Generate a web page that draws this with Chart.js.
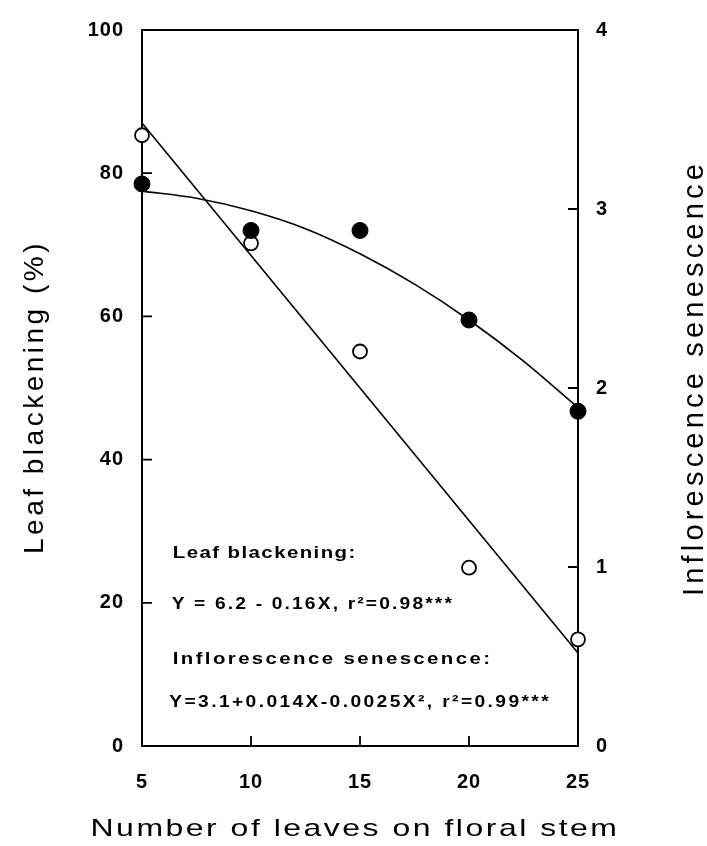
<!DOCTYPE html>
<html>
<head>
<meta charset="utf-8">
<script src="https://cdn.jsdelivr.net/npm/chart.js"></script>
<style>
  html, body { margin: 0; padding: 0; background: #fff; }
  #wrap { width: 707px; height: 846px; }
</style>
</head>
<body>
<div id="wrap"><canvas id="chart" width="707" height="846"></canvas></div>
<script>
// --- data ---
const leaves = [5, 10, 15, 20, 25];
const blackening = [85.3, 70.2, 55.1, 24.9, 14.9];      // open circles, left axis (%)
const senescence = [3.14, 2.88, 2.88, 2.38, 1.87];      // filled circles, right axis
const blackeningFitX = [5, 25];
const blackeningFitY = [87.0, 13.0];
const senescenceFitX = [5, 7.5, 10, 12.5, 15, 17.5, 20, 22.5, 25];
const senescenceFitY = [3.10, 3.06, 2.99, 2.89, 2.75, 2.58, 2.38, 2.15, 1.89];
const xTicks = [5, 10, 15, 20, 25];
const leftTicks = [0, 20, 40, 60, 80, 100];
const rightTicks = [0, 1, 2, 3, 4];

const FONT = '"Liberation Sans", Arial, Helvetica, sans-serif';

const pts = (xs, ys) => xs.map((x, i) => ({ x: x, y: ys[i] }));

function drawLabel(ctx, text, x, y, o) {
  ctx.save();
  ctx.translate(x, y);
  if (o.rotate) ctx.rotate(o.rotate);
  ctx.scale(o.stretch || 1, o.stretchY || 1);
  ctx.font = o.font;
  ctx.letterSpacing = (o.spacing || 0) + 'px';
  ctx.fillStyle = '#000';
  ctx.textBaseline = 'alphabetic';
  ctx.textAlign = o.align || 'left';
  ctx.fillText(text, 0, 0);
  ctx.restore();
}

// frame, inward tick marks, titles and equations
const figurePlugin = {
  id: 'figure',
  beforeDraw(chart) {
    chart.ctx.letterSpacing = '1px';
  },
  beforeDatasetsDraw(chart) {
    const { ctx, chartArea: a, scales } = chart;
    ctx.save();
    ctx.letterSpacing = '0px';
    ctx.strokeStyle = '#000';
    ctx.lineWidth = 2;
    ctx.strokeRect(a.left, a.top, a.right - a.left, a.bottom - a.top);
    ctx.lineWidth = 1.8;
    ctx.beginPath();
    xTicks.forEach(v => {
      const px = scales.x.getPixelForValue(v);
      ctx.moveTo(px, a.bottom); ctx.lineTo(px, a.bottom - 10);
    });
    leftTicks.forEach(v => {
      const py = scales.y.getPixelForValue(v);
      ctx.moveTo(a.left, py); ctx.lineTo(a.left + 10, py);
    });
    rightTicks.forEach(v => {
      const py = scales.y2.getPixelForValue(v);
      ctx.moveTo(a.right, py); ctx.lineTo(a.right - 10, py);
    });
    ctx.stroke();
    ctx.restore();
  },
  afterDatasetsDraw(chart) {
    const { ctx, scales } = chart;
    const X = v => scales.x.getPixelForValue(v);
    const Y = v => scales.y.getPixelForValue(v);
    drawLabel(ctx, 'Leaf blackening:', X(6.41), Y(26.3), { font: 'bold 17px ' + FONT, spacing: 1.2, stretch: 1.2 });
    drawLabel(ctx, 'Y = 6.2 - 0.16X, r\u00B2=0.98***', X(6.36), Y(19.1), { font: 'bold 16px ' + FONT, spacing: 1.8, stretch: 1.2 });
    drawLabel(ctx, 'Inflorescence senescence:', X(6.41), Y(11.4), { font: 'bold 17px ' + FONT, spacing: 2.0, stretch: 1.2 });
    drawLabel(ctx, 'Y=3.1+0.014X-0.0025X\u00B2, r\u00B2=0.99***', X(6.25), Y(5.4), { font: 'bold 16px ' + FONT, spacing: 2.0, stretch: 1.2 });

    const a = chart.chartArea;
    drawLabel(ctx, 'Number of leaves on floral stem', (a.left + a.right) / 2 - 5, 836,
      { font: '24px ' + FONT, spacing: 1.9, stretch: 1.33, align: 'center' });
    drawLabel(ctx, 'Leaf blackening (%)', 43, 397,
      { font: '28px ' + FONT, spacing: 3.5, rotate: -Math.PI / 2, align: 'center' });
    drawLabel(ctx, 'Inflorescence senescence', 703, 378,
      { font: '29px ' + FONT, spacing: 4.2, rotate: -Math.PI / 2, align: 'center' });
  },
  afterDraw(chart) {
    chart.ctx.letterSpacing = '0px';
  }
};

const tickFont = { family: FONT, size: 20, weight: 'bold' };

new Chart(document.getElementById('chart'), {
  type: 'scatter',
  data: {
    datasets: [
      {
        label: 'Inflorescence senescence',
        data: pts(leaves, senescence),
        yAxisID: 'y2',
        clip: false,
        pointStyle: 'circle',
        pointRadius: 8,
        backgroundColor: '#000',
        borderColor: '#000',
        borderWidth: 1
      },
      {
        label: 'Leaf blackening',
        data: pts(leaves, blackening),
        yAxisID: 'y',
        clip: false,
        pointStyle: 'circle',
        pointRadius: 7,
        backgroundColor: '#fff',
        borderColor: '#000',
        borderWidth: 1.8
      },
      {
        label: 'Leaf blackening fit',
        data: pts(blackeningFitX, blackeningFitY),
        yAxisID: 'y',
        showLine: true,
        pointRadius: 0,
        borderColor: '#000',
        borderWidth: 1.6
      },
      {
        label: 'Inflorescence senescence fit',
        data: pts(senescenceFitX, senescenceFitY),
        yAxisID: 'y2',
        showLine: true,
        cubicInterpolationMode: 'monotone',
        pointRadius: 0,
        borderColor: '#000',
        borderWidth: 1.6
      }
    ]
  },
  options: {
    responsive: false,
    devicePixelRatio: 1,
    animation: false,
    events: [],
    layout: { padding: { top: 20, left: 0, right: 0, bottom: 0 } },
    plugins: { legend: { display: false }, tooltip: { enabled: false } },
    scales: {
      x: {
        type: 'linear',
        position: 'bottom',
        min: 5, max: 25,
        afterBuildTicks: s => { s.ticks = xTicks.map(v => ({ value: v })); },
        afterFit: s => { s.height = 100; },
        grid: { display: false, drawTicks: false },
        border: { display: false },
        ticks: { color: '#000', font: tickFont, padding: 24, maxRotation: 0 }
      },
      y: {
        type: 'linear',
        position: 'left',
        min: 0, max: 100,
        afterBuildTicks: s => { s.ticks = leftTicks.map(v => ({ value: v })); },
        afterFit: s => { s.width = 142; },
        grid: { display: false, drawTicks: false },
        border: { display: false },
        ticks: { color: '#000', font: tickFont, padding: 18 }
      },
      y2: {
        type: 'linear',
        position: 'right',
        min: 0, max: 4,
        afterBuildTicks: s => { s.ticks = rightTicks.map(v => ({ value: v })); },
        afterFit: s => { s.width = 129; },
        grid: { display: false, drawTicks: false },
        border: { display: false },
        ticks: { color: '#000', font: tickFont, padding: 18 }
      }
    }
  },
  plugins: [figurePlugin]
});
</script>
</body>
</html>
